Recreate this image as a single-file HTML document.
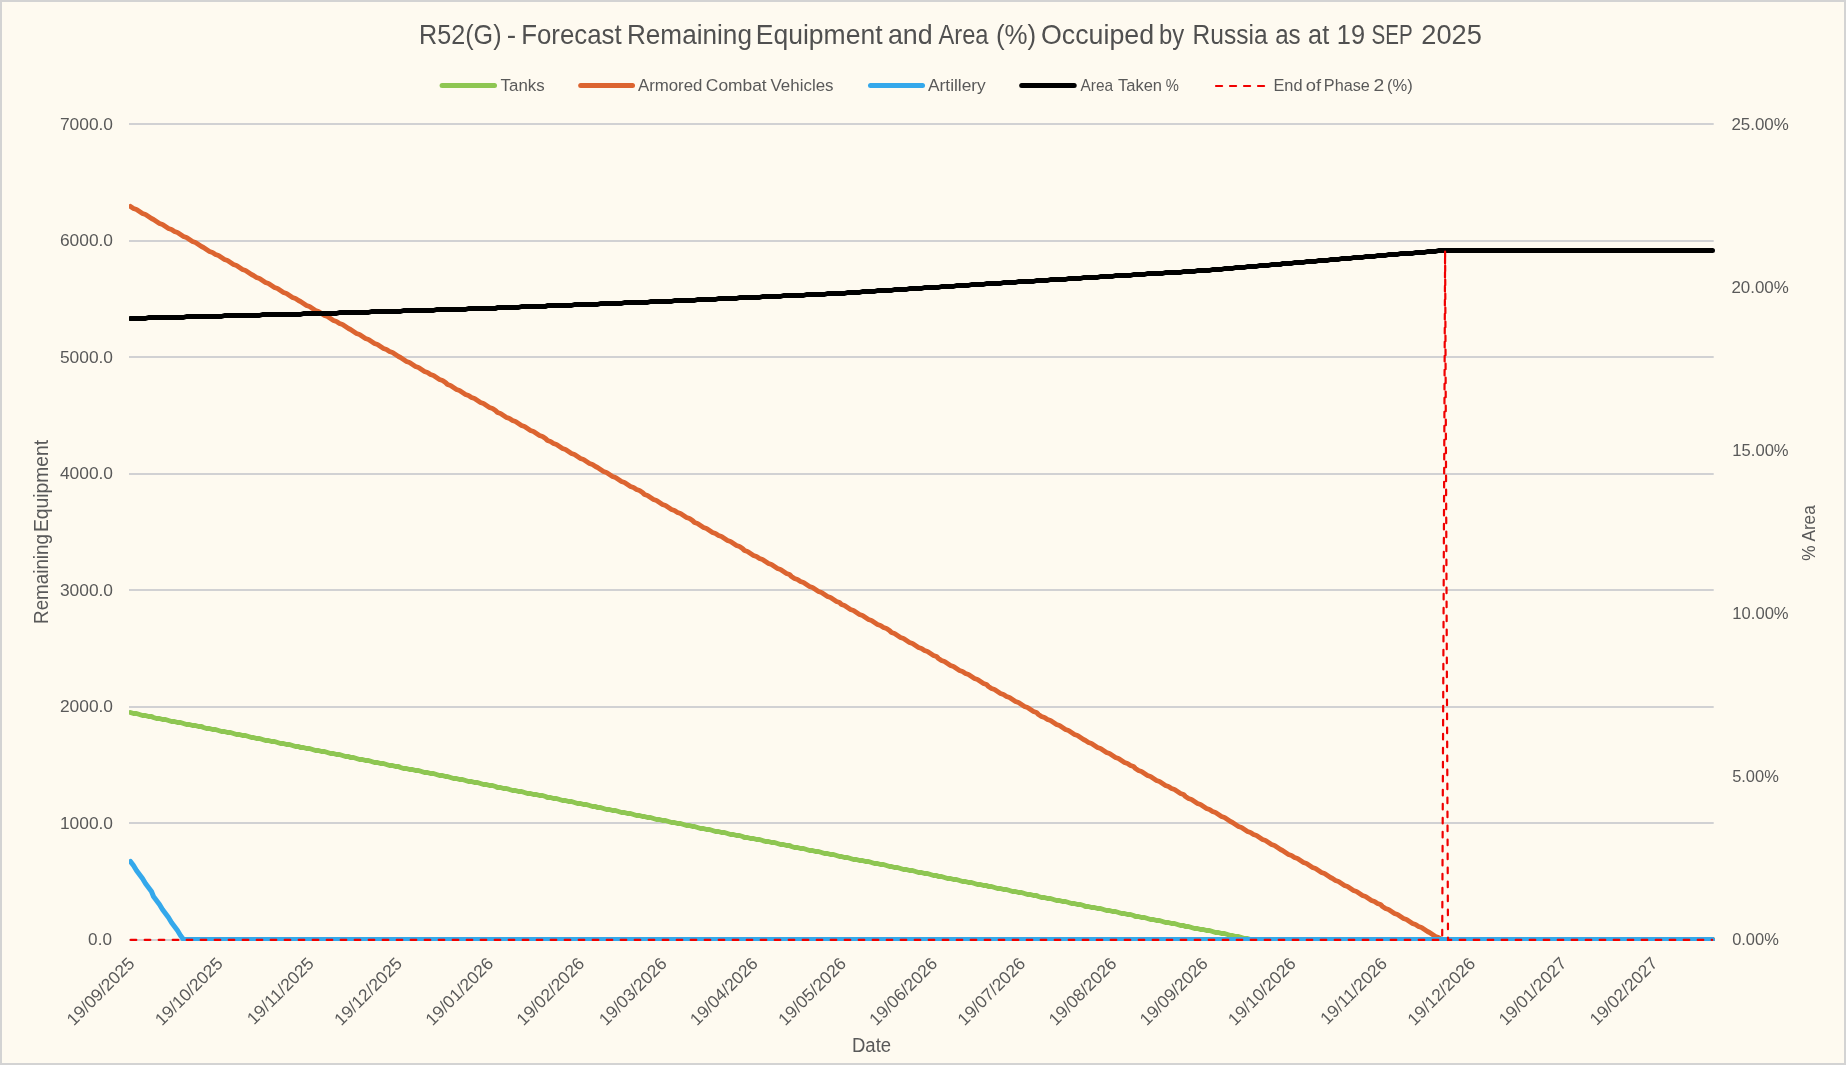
<!DOCTYPE html>
<html><head><meta charset="utf-8"><title>R52(G) Forecast</title>
<style>html,body{margin:0;padding:0;background:#FEFAF0;}body{width:1846px;height:1065px;overflow:hidden;position:relative;font-family:"Liberation Sans",sans-serif;}text{white-space:pre}</style>
</head><body>
<svg width="1846" height="1065" viewBox="0 0 1846 1065" style="position:absolute;left:0;top:0;will-change:transform;font-family:'Liberation Sans',sans-serif">
<rect x="0" y="0" width="1846" height="1065" fill="#D3D3D3"/>
<rect x="2" y="2" width="1842" height="1061" fill="#FEFAF0"/>
<rect x="129.0" y="123" width="1584.70" height="2" fill="#D1D1D3"/>
<rect x="129.0" y="240" width="1584.70" height="2" fill="#D1D1D3"/>
<rect x="129.0" y="356" width="1584.70" height="2" fill="#D1D1D3"/>
<rect x="129.0" y="473" width="1584.70" height="2" fill="#D1D1D3"/>
<rect x="129.0" y="589" width="1584.70" height="2" fill="#D1D1D3"/>
<rect x="129.0" y="706" width="1584.70" height="2" fill="#D1D1D3"/>
<rect x="129.0" y="822" width="1584.70" height="2" fill="#D1D1D3"/>
<rect x="129.0" y="939" width="1584.70" height="2" fill="#D1D1D3"/>
<clipPath id="cp"><rect x="129.0" y="100" width="1587.70" height="841.00"/></clipPath>
<g clip-path="url(#cp)" fill="none" stroke-linecap="round" stroke-linejoin="round">
<polyline points="130.5,712.5 133.5,713.5 136.5,713.5 139.5,714.5 142.5,715.5 145.5,715.5 148.5,716.5 151.5,716.5 153.5,717.5 156.5,718.5 159.5,718.5 162.5,719.5 165.5,719.5 168.5,720.5 171.5,721.5 174.5,721.5 177.5,722.5 180.5,722.5 183.5,723.5 186.5,724.5 189.5,724.5 192.5,725.5 195.5,725.5 198.5,726.5 201.5,726.5 203.5,727.5 206.5,728.5 209.5,728.5 212.5,729.5 215.5,729.5 218.5,730.5 221.5,731.5 224.5,731.5 227.5,732.5 230.5,732.5 233.5,733.5 236.5,734.5 239.5,734.5 242.5,735.5 245.5,735.5 248.5,736.5 251.5,737.5 253.5,737.5 256.5,738.5 259.5,738.5 262.5,739.5 265.5,740.5 268.5,740.5 271.5,741.5 274.5,741.5 277.5,742.5 280.5,743.5 283.5,743.5 286.5,744.5 289.5,744.5 292.5,745.5 295.5,746.5 298.5,746.5 300.5,747.5 303.5,747.5 306.5,748.5 309.5,748.5 312.5,749.5 315.5,750.5 318.5,750.5 321.5,751.5 324.5,751.5 327.5,752.5 330.5,753.5 333.5,753.5 336.5,754.5 339.5,754.5 342.5,755.5 345.5,756.5 348.5,756.5 350.5,757.5 353.5,757.5 356.5,758.5 359.5,759.5 362.5,759.5 365.5,760.5 368.5,760.5 371.5,761.5 374.5,762.5 377.5,762.5 380.5,763.5 383.5,763.5 386.5,764.5 389.5,765.5 392.5,765.5 395.5,766.5 398.5,766.5 400.5,767.5 403.5,768.5 406.5,768.5 409.5,769.5 412.5,769.5 415.5,770.5 418.5,770.5 421.5,771.5 424.5,772.5 427.5,772.5 430.5,773.5 433.5,773.5 436.5,774.5 439.5,775.5 442.5,775.5 445.5,776.5 447.5,776.5 450.5,777.5 453.5,778.5 456.5,778.5 459.5,779.5 462.5,779.5 465.5,780.5 468.5,781.5 471.5,781.5 474.5,782.5 477.5,782.5 480.5,783.5 483.5,784.5 486.5,784.5 489.5,785.5 492.5,785.5 495.5,786.5 497.5,787.5 500.5,787.5 503.5,788.5 506.5,788.5 509.5,789.5 512.5,790.5 515.5,790.5 518.5,791.5 521.5,791.5 524.5,792.5 527.5,793.5 530.5,793.5 533.5,794.5 536.5,794.5 539.5,795.5 542.5,795.5 545.5,796.5 547.5,797.5 550.5,797.5 553.5,798.5 556.5,798.5 559.5,799.5 562.5,800.5 565.5,800.5 568.5,801.5 571.5,801.5 574.5,802.5 577.5,803.5 580.5,803.5 583.5,804.5 586.5,804.5 589.5,805.5 592.5,806.5 595.5,806.5 597.5,807.5 600.5,807.5 603.5,808.5 606.5,809.5 609.5,809.5 612.5,810.5 615.5,810.5 618.5,811.5 621.5,812.5 624.5,812.5 627.5,813.5 630.5,813.5 633.5,814.5 636.5,815.5 639.5,815.5 642.5,816.5 644.5,816.5 647.5,817.5 650.5,817.5 653.5,818.5 656.5,819.5 659.5,819.5 662.5,820.5 665.5,820.5 668.5,821.5 671.5,822.5 674.5,822.5 677.5,823.5 680.5,823.5 683.5,824.5 686.5,825.5 689.5,825.5 692.5,826.5 694.5,826.5 697.5,827.5 700.5,828.5 703.5,828.5 706.5,829.5 709.5,829.5 712.5,830.5 715.5,831.5 718.5,831.5 721.5,832.5 724.5,832.5 727.5,833.5 730.5,834.5 733.5,834.5 736.5,835.5 739.5,835.5 742.5,836.5 744.5,837.5 747.5,837.5 750.5,838.5 753.5,838.5 756.5,839.5 759.5,839.5 762.5,840.5 765.5,841.5 768.5,841.5 771.5,842.5 774.5,842.5 777.5,843.5 780.5,844.5 783.5,844.5 786.5,845.5 789.5,845.5 791.5,846.5 794.5,847.5 797.5,847.5 800.5,848.5 803.5,848.5 806.5,849.5 809.5,850.5 812.5,850.5 815.5,851.5 818.5,851.5 821.5,852.5 824.5,853.5 827.5,853.5 830.5,854.5 833.5,854.5 836.5,855.5 839.5,856.5 841.5,856.5 844.5,857.5 847.5,857.5 850.5,858.5 853.5,859.5 856.5,859.5 859.5,860.5 862.5,860.5 865.5,861.5 868.5,861.5 871.5,862.5 874.5,863.5 877.5,863.5 880.5,864.5 883.5,864.5 886.5,865.5 889.5,866.5 891.5,866.5 894.5,867.5 897.5,867.5 900.5,868.5 903.5,869.5 906.5,869.5 909.5,870.5 912.5,870.5 915.5,871.5 918.5,872.5 921.5,872.5 924.5,873.5 927.5,873.5 930.5,874.5 933.5,875.5 936.5,875.5 938.5,876.5 941.5,876.5 944.5,877.5 947.5,878.5 950.5,878.5 953.5,879.5 956.5,879.5 959.5,880.5 962.5,881.5 965.5,881.5 968.5,882.5 971.5,882.5 974.5,883.5 977.5,884.5 980.5,884.5 983.5,885.5 986.5,885.5 988.5,886.5 991.5,886.5 994.5,887.5 997.5,888.5 1000.5,888.5 1003.5,889.5 1006.5,889.5 1009.5,890.5 1012.5,891.5 1015.5,891.5 1018.5,892.5 1021.5,892.5 1024.5,893.5 1027.5,894.5 1030.5,894.5 1033.5,895.5 1036.5,895.5 1038.5,896.5 1041.5,897.5 1044.5,897.5 1047.5,898.5 1050.5,898.5 1053.5,899.5 1056.5,900.5 1059.5,900.5 1062.5,901.5 1065.5,901.5 1068.5,902.5 1071.5,903.5 1074.5,903.5 1077.5,904.5 1080.5,904.5 1083.5,905.5 1085.5,906.5 1088.5,906.5 1091.5,907.5 1094.5,907.5 1097.5,908.5 1100.5,908.5 1103.5,909.5 1106.5,910.5 1109.5,910.5 1112.5,911.5 1115.5,911.5 1118.5,912.5 1121.5,913.5 1124.5,913.5 1127.5,914.5 1130.5,914.5 1133.5,915.5 1135.5,916.5 1138.5,916.5 1141.5,917.5 1144.5,917.5 1147.5,918.5 1150.5,919.5 1153.5,919.5 1156.5,920.5 1159.5,920.5 1162.5,921.5 1165.5,922.5 1168.5,922.5 1171.5,923.5 1174.5,923.5 1177.5,924.5 1180.5,925.5 1183.5,925.5 1185.5,926.5 1188.5,926.5 1191.5,927.5 1194.5,928.5 1197.5,928.5 1200.5,929.5 1203.5,929.5 1206.5,930.5 1209.5,930.5 1212.5,931.5 1215.5,932.5 1218.5,932.5 1221.5,933.5 1224.5,933.5 1227.5,934.5 1230.5,935.5 1232.5,935.5 1235.5,936.5 1238.5,936.5 1241.5,937.5 1244.5,938.5 1247.5,938.5 1250.5,939.5 1712.5,939.5" stroke="#8EC652" stroke-width="5"/>
<polyline points="130.5,206.5 133.5,208.5 136.5,209.5 139.5,211.5 142.5,213.5 145.5,214.5 148.5,216.5 151.5,218.5 153.5,219.5 156.5,221.5 159.5,223.5 162.5,224.5 165.5,226.5 168.5,228.5 171.5,229.5 174.5,231.5 177.5,232.5 180.5,234.5 183.5,236.5 186.5,237.5 189.5,239.5 192.5,241.5 195.5,242.5 198.5,244.5 201.5,246.5 203.5,247.5 206.5,249.5 209.5,251.5 212.5,252.5 215.5,254.5 218.5,255.5 221.5,257.5 224.5,259.5 227.5,260.5 230.5,262.5 233.5,264.5 236.5,265.5 239.5,267.5 242.5,269.5 245.5,270.5 248.5,272.5 251.5,274.5 253.5,275.5 256.5,277.5 259.5,278.5 262.5,280.5 265.5,282.5 268.5,283.5 271.5,285.5 274.5,287.5 277.5,288.5 280.5,290.5 283.5,292.5 286.5,293.5 289.5,295.5 292.5,297.5 295.5,298.5 298.5,300.5 300.5,301.5 303.5,303.5 306.5,305.5 309.5,306.5 312.5,308.5 315.5,310.5 318.5,311.5 321.5,313.5 324.5,315.5 327.5,316.5 330.5,318.5 333.5,320.5 336.5,321.5 339.5,323.5 342.5,324.5 345.5,326.5 348.5,328.5 350.5,329.5 353.5,331.5 356.5,333.5 359.5,334.5 362.5,336.5 365.5,338.5 368.5,339.5 371.5,341.5 374.5,343.5 377.5,344.5 380.5,346.5 383.5,348.5 386.5,349.5 389.5,351.5 392.5,352.5 395.5,354.5 398.5,356.5 400.5,357.5 403.5,359.5 406.5,361.5 409.5,362.5 412.5,364.5 415.5,366.5 418.5,367.5 421.5,369.5 424.5,371.5 427.5,372.5 430.5,374.5 433.5,375.5 436.5,377.5 439.5,379.5 442.5,380.5 445.5,382.5 447.5,384.5 450.5,385.5 453.5,387.5 456.5,389.5 459.5,390.5 462.5,392.5 465.5,394.5 468.5,395.5 471.5,397.5 474.5,398.5 477.5,400.5 480.5,402.5 483.5,403.5 486.5,405.5 489.5,407.5 492.5,408.5 495.5,410.5 497.5,412.5 500.5,413.5 503.5,415.5 506.5,417.5 509.5,418.5 512.5,420.5 515.5,421.5 518.5,423.5 521.5,425.5 524.5,426.5 527.5,428.5 530.5,430.5 533.5,431.5 536.5,433.5 539.5,435.5 542.5,436.5 545.5,438.5 547.5,440.5 550.5,441.5 553.5,443.5 556.5,444.5 559.5,446.5 562.5,448.5 565.5,449.5 568.5,451.5 571.5,453.5 574.5,454.5 577.5,456.5 580.5,458.5 583.5,459.5 586.5,461.5 589.5,463.5 592.5,464.5 595.5,466.5 597.5,467.5 600.5,469.5 603.5,471.5 606.5,472.5 609.5,474.5 612.5,476.5 615.5,477.5 618.5,479.5 621.5,481.5 624.5,482.5 627.5,484.5 630.5,486.5 633.5,487.5 636.5,489.5 639.5,490.5 642.5,492.5 644.5,494.5 647.5,495.5 650.5,497.5 653.5,499.5 656.5,500.5 659.5,502.5 662.5,504.5 665.5,505.5 668.5,507.5 671.5,509.5 674.5,510.5 677.5,512.5 680.5,513.5 683.5,515.5 686.5,517.5 689.5,518.5 692.5,520.5 694.5,522.5 697.5,523.5 700.5,525.5 703.5,527.5 706.5,528.5 709.5,530.5 712.5,532.5 715.5,533.5 718.5,535.5 721.5,536.5 724.5,538.5 727.5,540.5 730.5,541.5 733.5,543.5 736.5,545.5 739.5,546.5 742.5,548.5 744.5,550.5 747.5,551.5 750.5,553.5 753.5,555.5 756.5,556.5 759.5,558.5 762.5,559.5 765.5,561.5 768.5,563.5 771.5,564.5 774.5,566.5 777.5,568.5 780.5,569.5 783.5,571.5 786.5,573.5 789.5,574.5 791.5,576.5 794.5,578.5 797.5,579.5 800.5,581.5 803.5,582.5 806.5,584.5 809.5,586.5 812.5,587.5 815.5,589.5 818.5,591.5 821.5,592.5 824.5,594.5 827.5,596.5 830.5,597.5 833.5,599.5 836.5,601.5 839.5,602.5 841.5,604.5 844.5,605.5 847.5,607.5 850.5,609.5 853.5,610.5 856.5,612.5 859.5,614.5 862.5,615.5 865.5,617.5 868.5,619.5 871.5,620.5 874.5,622.5 877.5,624.5 880.5,625.5 883.5,627.5 886.5,628.5 889.5,630.5 891.5,632.5 894.5,633.5 897.5,635.5 900.5,637.5 903.5,638.5 906.5,640.5 909.5,642.5 912.5,643.5 915.5,645.5 918.5,647.5 921.5,648.5 924.5,650.5 927.5,651.5 930.5,653.5 933.5,655.5 936.5,656.5 938.5,658.5 941.5,660.5 944.5,661.5 947.5,663.5 950.5,665.5 953.5,666.5 956.5,668.5 959.5,670.5 962.5,671.5 965.5,673.5 968.5,674.5 971.5,676.5 974.5,678.5 977.5,679.5 980.5,681.5 983.5,683.5 986.5,684.5 988.5,686.5 991.5,688.5 994.5,689.5 997.5,691.5 1000.5,693.5 1003.5,694.5 1006.5,696.5 1009.5,697.5 1012.5,699.5 1015.5,701.5 1018.5,702.5 1021.5,704.5 1024.5,706.5 1027.5,707.5 1030.5,709.5 1033.5,711.5 1036.5,712.5 1038.5,714.5 1041.5,716.5 1044.5,717.5 1047.5,719.5 1050.5,720.5 1053.5,722.5 1056.5,724.5 1059.5,725.5 1062.5,727.5 1065.5,729.5 1068.5,730.5 1071.5,732.5 1074.5,734.5 1077.5,735.5 1080.5,737.5 1083.5,739.5 1085.5,740.5 1088.5,742.5 1091.5,743.5 1094.5,745.5 1097.5,747.5 1100.5,748.5 1103.5,750.5 1106.5,752.5 1109.5,753.5 1112.5,755.5 1115.5,757.5 1118.5,758.5 1121.5,760.5 1124.5,762.5 1127.5,763.5 1130.5,765.5 1133.5,766.5 1135.5,768.5 1138.5,770.5 1141.5,771.5 1144.5,773.5 1147.5,775.5 1150.5,776.5 1153.5,778.5 1156.5,780.5 1159.5,781.5 1162.5,783.5 1165.5,785.5 1168.5,786.5 1171.5,788.5 1174.5,789.5 1177.5,791.5 1180.5,793.5 1183.5,794.5 1185.5,796.5 1188.5,798.5 1191.5,799.5 1194.5,801.5 1197.5,803.5 1200.5,804.5 1203.5,806.5 1206.5,808.5 1209.5,809.5 1212.5,811.5 1215.5,812.5 1218.5,814.5 1221.5,816.5 1224.5,817.5 1227.5,819.5 1230.5,821.5 1232.5,822.5 1235.5,824.5 1238.5,826.5 1241.5,827.5 1244.5,829.5 1247.5,831.5 1250.5,832.5 1253.5,834.5 1256.5,835.5 1259.5,837.5 1262.5,839.5 1265.5,840.5 1268.5,842.5 1271.5,844.5 1274.5,845.5 1277.5,847.5 1280.5,849.5 1282.5,850.5 1285.5,852.5 1288.5,854.5 1291.5,855.5 1294.5,857.5 1297.5,858.5 1300.5,860.5 1303.5,862.5 1306.5,863.5 1309.5,865.5 1312.5,867.5 1315.5,868.5 1318.5,870.5 1321.5,872.5 1324.5,873.5 1327.5,875.5 1330.5,877.5 1332.5,878.5 1335.5,880.5 1338.5,881.5 1341.5,883.5 1344.5,885.5 1347.5,886.5 1350.5,888.5 1353.5,890.5 1356.5,891.5 1359.5,893.5 1362.5,895.5 1365.5,896.5 1368.5,898.5 1371.5,900.5 1374.5,901.5 1377.5,903.5 1380.5,904.5 1382.5,906.5 1385.5,908.5 1388.5,909.5 1391.5,911.5 1394.5,913.5 1397.5,914.5 1400.5,916.5 1403.5,918.5 1406.5,919.5 1409.5,921.5 1412.5,923.5 1415.5,924.5 1418.5,926.5 1421.5,927.5 1424.5,929.5 1427.5,931.5 1429.5,932.5 1432.5,934.5 1435.5,936.5 1438.5,937.5 1441.5,939.5 1712.5,939.5" stroke="#DC6430" stroke-width="5"/>
<polyline points="130.5,861.5 133.5,865.5 136.5,870.5 139.5,874.5 142.5,878.5 145.5,883.5 148.5,887.5 151.5,891.5 153.5,896.5 156.5,900.5 159.5,904.5 162.5,909.5 165.5,913.5 168.5,917.5 171.5,922.5 174.5,926.5 177.5,930.5 180.5,935.5 183.5,939.5 1712.5,939.5" stroke="#34A8EB" stroke-width="5"/>
<polyline points="130.5,318.5 145.5,318.5 148.5,317.5 183.5,317.5 186.5,316.5 221.5,316.5 224.5,315.5 259.5,315.5 262.5,314.5 300.5,314.5 303.5,313.5 336.5,313.5 339.5,312.5 368.5,312.5 371.5,311.5 400.5,311.5 403.5,310.5 433.5,310.5 436.5,309.5 465.5,309.5 468.5,308.5 495.5,308.5 497.5,307.5 518.5,307.5 521.5,306.5 545.5,306.5 547.5,305.5 571.5,305.5 574.5,304.5 597.5,304.5 600.5,303.5 621.5,303.5 624.5,302.5 647.5,302.5 650.5,301.5 671.5,301.5 674.5,300.5 694.5,300.5 697.5,299.5 715.5,299.5 718.5,298.5 736.5,298.5 739.5,297.5 759.5,297.5 762.5,296.5 780.5,296.5 783.5,295.5 803.5,295.5 806.5,294.5 824.5,294.5 827.5,293.5 844.5,293.5 847.5,292.5 859.5,292.5 862.5,291.5 874.5,291.5 877.5,290.5 891.5,290.5 894.5,289.5 906.5,289.5 909.5,288.5 921.5,288.5 924.5,287.5 938.5,287.5 941.5,286.5 953.5,286.5 956.5,285.5 968.5,285.5 971.5,284.5 983.5,284.5 986.5,283.5 1000.5,283.5 1003.5,282.5 1015.5,282.5 1018.5,281.5 1033.5,281.5 1036.5,280.5 1047.5,280.5 1050.5,279.5 1065.5,279.5 1068.5,278.5 1080.5,278.5 1083.5,277.5 1097.5,277.5 1100.5,276.5 1112.5,276.5 1115.5,275.5 1130.5,275.5 1133.5,274.5 1144.5,274.5 1147.5,273.5 1162.5,273.5 1165.5,272.5 1180.5,272.5 1183.5,271.5 1194.5,271.5 1197.5,270.5 1209.5,270.5 1212.5,269.5 1221.5,269.5 1224.5,268.5 1232.5,268.5 1235.5,267.5 1244.5,267.5 1247.5,266.5 1256.5,266.5 1259.5,265.5 1268.5,265.5 1271.5,264.5 1280.5,264.5 1282.5,263.5 1291.5,263.5 1294.5,262.5 1303.5,262.5 1306.5,261.5 1315.5,261.5 1318.5,260.5 1327.5,260.5 1330.5,259.5 1338.5,259.5 1341.5,258.5 1350.5,258.5 1353.5,257.5 1362.5,257.5 1365.5,256.5 1374.5,256.5 1377.5,255.5 1385.5,255.5 1388.5,254.5 1397.5,254.5 1400.5,253.5 1412.5,253.5 1415.5,252.5 1424.5,252.5 1427.5,251.5 1435.5,251.5 1438.5,250.5 1712.5,250.5" stroke="#000" stroke-width="5"/>
<polyline points="130.7,939.90 1442.2,939.90 1445.1,250.5 1448.0,939.90 1712.23,939.90" stroke="#F00000" stroke-width="2.2" stroke-dasharray="5.6 8.4" stroke-linejoin="miter"/>
</g>
<line x1="442.1" y1="85.4" x2="494.5" y2="85.4" stroke="#8EC652" stroke-width="5" stroke-linecap="round"/>
<line x1="580.7" y1="85.4" x2="632.5" y2="85.4" stroke="#DC6430" stroke-width="5" stroke-linecap="round"/>
<line x1="870.5" y1="85.4" x2="922.5" y2="85.4" stroke="#34A8EB" stroke-width="5" stroke-linecap="round"/>
<line x1="1021.7" y1="85.4" x2="1074.2" y2="85.4" stroke="#000" stroke-width="5" stroke-linecap="round"/>
<line x1="1216.0" y1="86.0" x2="1264.2" y2="86.0" stroke="#F00000" stroke-width="2.2" stroke-dasharray="6.1 7.9" stroke-linecap="round"/>
<text transform="translate(500.62,90.90) scale(0.9805,1)" font-size="17.20" fill="#595959" >Tanks</text>
<text transform="translate(637.96,90.90) scale(0.9781,1)" font-size="17.20" fill="#595959" >Armored</text>
<text transform="translate(705.83,90.90) scale(1.0114,1)" font-size="17.20" fill="#595959" >Combat</text>
<text transform="translate(770.52,90.90) scale(0.9843,1)" font-size="17.20" fill="#595959" >Vehicles</text>
<text transform="translate(927.96,90.90) scale(1.0097,1)" font-size="17.20" fill="#595959" >Artillery</text>
<text transform="translate(1080.56,90.90) scale(0.8980,1)" font-size="17.20" fill="#595959" >Area</text>
<text transform="translate(1117.93,90.90) scale(0.9611,1)" font-size="17.20" fill="#595959" >Taken</text>
<text transform="translate(1165.78,90.90) scale(0.8577,1)" font-size="17.20" fill="#595959" >%</text>
<text transform="translate(1273.45,90.90) scale(0.9507,1)" font-size="17.20" fill="#595959" >End</text>
<text transform="translate(1305.72,90.90) scale(1.0708,1)" font-size="17.20" fill="#595959" >of</text>
<text transform="translate(1323.86,90.90) scale(0.9437,1)" font-size="17.20" fill="#595959" >Phase</text>
<text transform="translate(1373.43,90.90) scale(1.1242,1)" font-size="17.20" fill="#595959" >2</text>
<text transform="translate(1387.07,90.90) scale(0.9616,1)" font-size="17.20" fill="#595959" >(%)</text>
<text transform="translate(419.12,43.80) scale(0.9398,1)" font-size="26.76" fill="#505050" >R52(G)</text>
<text transform="translate(506.63,43.80) scale(1.0523,1)" font-size="26.76" fill="#505050" >-</text>
<text transform="translate(521.17,43.80) scale(0.9656,1)" font-size="26.76" fill="#505050" >Forecast</text>
<text transform="translate(626.94,43.80) scale(0.9778,1)" font-size="26.76" fill="#505050" >Remaining</text>
<text transform="translate(755.81,43.80) scale(0.9911,1)" font-size="26.76" fill="#505050" >Equipment</text>
<text transform="translate(887.96,43.80) scale(1.0020,1)" font-size="26.76" fill="#505050" >and</text>
<text transform="translate(938.44,43.80) scale(0.8854,1)" font-size="26.76" fill="#505050" >Area</text>
<text transform="translate(995.98,43.80) scale(0.9677,1)" font-size="26.76" fill="#505050" >(%)</text>
<text transform="translate(1040.93,43.80) scale(1.0012,1)" font-size="26.76" fill="#505050" >Occuiped</text>
<text transform="translate(1159.05,43.80) scale(0.8930,1)" font-size="26.76" fill="#505050" >by</text>
<text transform="translate(1192.58,43.80) scale(0.9168,1)" font-size="26.76" fill="#505050" >Russia</text>
<text transform="translate(1275.17,43.80) scale(0.9021,1)" font-size="26.76" fill="#505050" >as</text>
<text transform="translate(1308.12,43.80) scale(0.9454,1)" font-size="26.76" fill="#505050" >at</text>
<text transform="translate(1336.80,43.80) scale(0.9473,1)" font-size="26.76" fill="#505050" >19</text>
<text transform="translate(1371.47,43.80) scale(0.7689,1)" font-size="26.76" fill="#505050" >SEP</text>
<text transform="translate(1421.24,43.80) scale(1.0180,1)" font-size="26.76" fill="#505050" >2025</text>
<text transform="translate(88.11,945.00) scale(0.9964,1)" font-size="17.20" fill="#595959" >0.0</text>
<text transform="translate(59.93,828.57) scale(1.0098,1)" font-size="17.20" fill="#595959" >1000.0</text>
<text transform="translate(59.93,712.14) scale(1.0098,1)" font-size="17.20" fill="#595959" >2000.0</text>
<text transform="translate(59.93,595.71) scale(1.0098,1)" font-size="17.20" fill="#595959" >3000.0</text>
<text transform="translate(59.93,479.29) scale(1.0098,1)" font-size="17.20" fill="#595959" >4000.0</text>
<text transform="translate(59.93,362.86) scale(1.0098,1)" font-size="17.20" fill="#595959" >5000.0</text>
<text transform="translate(59.93,246.43) scale(1.0098,1)" font-size="17.20" fill="#595959" >6000.0</text>
<text transform="translate(59.93,130.00) scale(1.0098,1)" font-size="17.20" fill="#595959" >7000.0</text>
<text transform="translate(1732.14,945.00) scale(0.9574,1)" font-size="17.20" fill="#595959" >0.00%</text>
<text transform="translate(1732.14,782.02) scale(0.9574,1)" font-size="17.20" fill="#595959" >5.00%</text>
<text transform="translate(1732.35,619.04) scale(0.9651,1)" font-size="17.20" fill="#595959" >10.00%</text>
<text transform="translate(1732.35,456.06) scale(0.9651,1)" font-size="17.20" fill="#595959" >15.00%</text>
<text transform="translate(1731.45,293.08) scale(0.9841,1)" font-size="17.20" fill="#595959" >20.00%</text>
<text transform="translate(1731.45,130.10) scale(0.9841,1)" font-size="17.20" fill="#595959" >25.00%</text>
<text transform="rotate(-90) translate(-623.95,48.30) scale(0.9510,1)" font-size="19.78" fill="#595959" >Remaining</text>
<text transform="rotate(-90) translate(-532.09,48.30) scale(0.9755,1)" font-size="19.78" fill="#595959" >Equipment</text>
<text transform="rotate(-90) translate(-560.70,1815.00) scale(0.9106,1)" font-size="18.90" fill="#595959" >% Area</text>
<text transform="translate(851.97,1051.90) scale(0.9384,1)" font-size="19.78" fill="#595959" >Date</text>
<text transform="translate(135.17,965.00) rotate(-45) translate(-86.94,0) scale(1.018,1)" font-size="17.2" fill="#595959">19/09/2025</text>
<text transform="translate(223.37,965.00) rotate(-45) translate(-86.94,0) scale(1.018,1)" font-size="17.2" fill="#595959">19/10/2025</text>
<text transform="translate(314.51,965.00) rotate(-45) translate(-85.62,0) scale(1.018,1)" font-size="17.2" fill="#595959">19/11/2025</text>
<text transform="translate(402.72,965.00) rotate(-45) translate(-86.94,0) scale(1.018,1)" font-size="17.2" fill="#595959">19/12/2025</text>
<text transform="translate(493.86,965.00) rotate(-45) translate(-86.89,0) scale(1.018,1)" font-size="17.2" fill="#595959">19/01/2026</text>
<text transform="translate(585.00,965.00) rotate(-45) translate(-86.89,0) scale(1.018,1)" font-size="17.2" fill="#595959">19/02/2026</text>
<text transform="translate(667.32,965.00) rotate(-45) translate(-86.89,0) scale(1.018,1)" font-size="17.2" fill="#595959">19/03/2026</text>
<text transform="translate(758.47,965.00) rotate(-45) translate(-86.89,0) scale(1.018,1)" font-size="17.2" fill="#595959">19/04/2026</text>
<text transform="translate(846.67,965.00) rotate(-45) translate(-86.89,0) scale(1.018,1)" font-size="17.2" fill="#595959">19/05/2026</text>
<text transform="translate(937.81,965.00) rotate(-45) translate(-86.89,0) scale(1.018,1)" font-size="17.2" fill="#595959">19/06/2026</text>
<text transform="translate(1026.01,965.00) rotate(-45) translate(-86.89,0) scale(1.018,1)" font-size="17.2" fill="#595959">19/07/2026</text>
<text transform="translate(1117.15,965.00) rotate(-45) translate(-86.89,0) scale(1.018,1)" font-size="17.2" fill="#595959">19/08/2026</text>
<text transform="translate(1208.30,965.00) rotate(-45) translate(-86.89,0) scale(1.018,1)" font-size="17.2" fill="#595959">19/09/2026</text>
<text transform="translate(1296.50,965.00) rotate(-45) translate(-86.89,0) scale(1.018,1)" font-size="17.2" fill="#595959">19/10/2026</text>
<text transform="translate(1387.64,965.00) rotate(-45) translate(-85.58,0) scale(1.018,1)" font-size="17.2" fill="#595959">19/11/2026</text>
<text transform="translate(1475.84,965.00) rotate(-45) translate(-86.89,0) scale(1.018,1)" font-size="17.2" fill="#595959">19/12/2026</text>
<text transform="translate(1566.99,965.00) rotate(-45) translate(-86.76,0) scale(1.018,1)" font-size="17.2" fill="#595959">19/01/2027</text>
<text transform="translate(1658.13,965.00) rotate(-45) translate(-86.76,0) scale(1.018,1)" font-size="17.2" fill="#595959">19/02/2027</text>
</svg>
</body></html>
